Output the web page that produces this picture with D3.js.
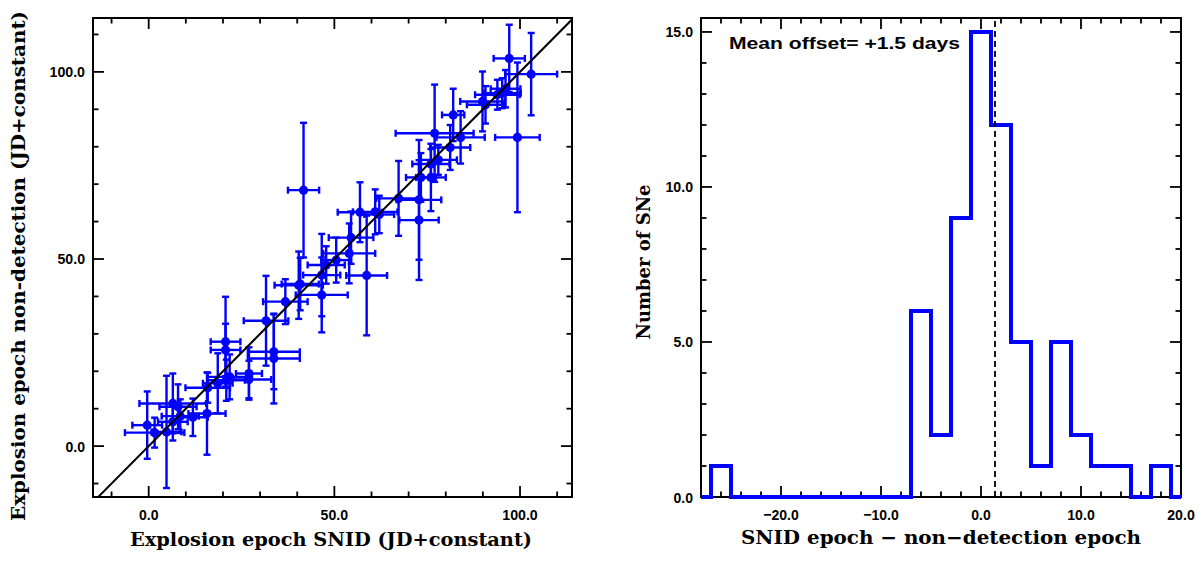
<!DOCTYPE html>
<html><head><meta charset="utf-8">
<script src="https://cdn.jsdelivr.net/npm/d3@7/dist/d3.min.js"></script>
<style>html,body{margin:0;padding:0;background:#fff;}svg{display:block;}</style>
</head><body>
<svg id="chart" width="1202" height="561"></svg>
<script>
// ---- Left panel data: explosion epochs (JD + constant) ----
const snidEpoch   = [-0.4,1.6,4.8,6.5,7.9,8.5,6.5,11.9,15.7,15.9,18.6,20.9,21.8,27.0,27.0,20.7,20.7,33.7,33.7,31.6,36.8,40.4,40.8,46.6,46.6,50.5,47.8,54.0,54.5,58.7,56.9,61.0,62.1,41.7,67.3,72.8,72.8,73.3,76.0,76.0,78.0,77.0,81.2,84.0,82.0,89.9,90.7,93.9,95.2,96.1,97.1,103.0,99.3];
const nondetEpoch = [5.6,3.6,3.8,11.4,10.5,8.0,6.5,7.7,8.7,15.6,16.8,17.6,18.5,19.4,17.8,25.7,27.9,25.2,23.4,33.5,38.6,43.0,43.3,45.7,40.4,49.7,48.4,51.5,55.7,45.6,62.5,62.6,61.9,68.4,66.2,65.8,60.4,71.8,71.8,75.4,76.5,83.6,79.8,82.5,88.5,92.1,91.2,93.9,94.3,95.5,103.6,99.4,82.5];
const snidErr     = [4,8,4,9,5,5,4,4,5,6,4,5,6,3.5,6,4,4,7,7,6,6,6.5,5,5,7,4,5,7,6,5.5,6,6,4,4.2,6,6,5.3,4,4,5,5,10.5,5.4,6.5,3,6,5,6,5,4,4.2,7,6];
const nondetErr   = [9,4,15,8,6,4.5,5,5,11,4,8,5.5,6,7,5,7,12,10,12,12,6,9,7,11,10,6,5,8,7,16,8,6,5,18,10,16,16,6.5,9,4,4,13,6,7,7,8,5,4,4,5,9,11,20];
const leftXTicks = [0, 50, 100];
const leftYTicks = [0, 50, 100];
const leftXLabel = "Explosion epoch SNID (JD+constant)";
const leftYLabel = "Explosion epoch non-detection (JD+constant)";

// ---- Right panel data: histogram of SNID epoch - non-detection epoch ----
const binStarts = [-27,-25,-23,-21,-19,-17,-15,-13,-11,-9,-7,-5,-3,-1,1,3,5,7,9,11,13,15,17];
const binCounts = [1,0,0,0,0,0,0,0,0,0,6,2,9,15,12,5,1,5,2,1,1,0,1];
const binWidth = 2;
const meanOffsetLine = 1.4;
const rightXTicks = [-20, -10, 0, 10, 20];
const rightYTicks = [0, 5, 10, 15];
const rightXLabel = "SNID epoch \u2212 non\u2212detection epoch";
const rightYLabel = "Number of SNe";
const annotation = "Mean offset= +1.5 days";

const svg = d3.select("#chart");
const BLUE = "#0000ff";
const tickFont = "'Liberation Sans', Arial, sans-serif";
const titleFont = "'DejaVu Serif', serif";

function labelWidth(s) {
  let w = 0;
  for (const c of s) w += (c === ".") ? 3.5 : (c === "\u2212" ? 8 : 8);
  return w;
}

function frameAndTicks(g, x, y, xMajor, xMinorStep, yMajor, yMinorStep) {
  const [x0, x1] = x.range(), [y0, y1] = y.range();
  const xd = x.domain(), yd = y.domain();
  const minors = (d, step) => {
    const out = [];
    for (let v = Math.ceil(d[0] / step) * step; v <= d[1] + 1e-9; v += step) out.push(+v.toFixed(6));
    return out;
  };
  const tk = g.append("g").attr("stroke", "#000").attr("stroke-width", 1.8);
  minors(xd, xMinorStep).forEach(v => {
    const major = xMajor.includes(v), L = major ? 11 : 5.5, px = x(v);
    tk.append("line").attr("x1", px).attr("x2", px).attr("y1", y0).attr("y2", y0 - L);
    tk.append("line").attr("x1", px).attr("x2", px).attr("y1", y1).attr("y2", y1 + L);
  });
  minors(yd, yMinorStep).forEach(v => {
    const major = yMajor.includes(v), L = major ? 11 : 5.5, py = y(v);
    tk.append("line").attr("y1", py).attr("y2", py).attr("x1", x0).attr("x2", x0 + L);
    tk.append("line").attr("y1", py).attr("y2", py).attr("x1", x1).attr("x2", x1 - L);
  });
  g.append("rect").attr("x", x0).attr("y", y1).attr("width", x1 - x0).attr("height", y0 - y1)
    .attr("fill", "none").attr("stroke", "#000").attr("stroke-width", 2);
  // tick labels
  xMajor.forEach(v => {
    const s = d3.format(".1f")(v).replace("-", "\u2212");
    g.append("text").attr("x", x(v)).attr("y", 520).attr("text-anchor", "middle")
      .attr("font-family", tickFont).attr("font-weight", "bold").attr("font-size", 15.5)
      .attr("textLength", labelWidth(s)).attr("lengthAdjust", "spacingAndGlyphs")
      .text(s);
  });
  yMajor.forEach(v => {
    const s = d3.format(".1f")(v);
    g.append("text").attr("x", x0 - 8).attr("y", y(v) + 5.5).attr("text-anchor", "end")
      .attr("font-family", tickFont).attr("font-weight", "bold").attr("font-size", 15.5)
      .attr("textLength", labelWidth(s)).attr("lengthAdjust", "spacingAndGlyphs")
      .text(s);
  });
}

// ---------- Left panel ----------
const xL = d3.scaleLinear().domain([-15, 114]).range([93, 572]);
const yL = d3.scaleLinear().domain([-13.6, 114.4]).range([497, 18]);
const gL = svg.append("g");
svg.append("clipPath").attr("id", "clipL").append("rect")
  .attr("x", 93).attr("y", 18).attr("width", 479).attr("height", 479);

const pts = snidEpoch.map((v, i) => ({x: v, y: nondetEpoch[i], ex: snidErr[i], ey: nondetErr[i]}));
const eb = gL.append("g").attr("stroke", BLUE).attr("stroke-width", 2.4).attr("clip-path", "url(#clipL)");
const cap = 3.5;
pts.forEach(p => {
  const cx = xL(p.x), cy = yL(p.y);
  const xa = xL(p.x - p.ex), xb = xL(p.x + p.ex), ya = yL(p.y - p.ey), yb = yL(p.y + p.ey);
  eb.append("line").attr("x1", xa).attr("x2", xb).attr("y1", cy).attr("y2", cy);
  eb.append("line").attr("x1", xa).attr("x2", xa).attr("y1", cy - cap).attr("y2", cy + cap);
  eb.append("line").attr("x1", xb).attr("x2", xb).attr("y1", cy - cap).attr("y2", cy + cap);
  eb.append("line").attr("x1", cx).attr("x2", cx).attr("y1", ya).attr("y2", yb);
  eb.append("line").attr("x1", cx - cap).attr("x2", cx + cap).attr("y1", ya).attr("y2", ya);
  eb.append("line").attr("x1", cx - cap).attr("x2", cx + cap).attr("y1", yb).attr("y2", yb);
});
gL.append("g").attr("clip-path", "url(#clipL)").selectAll("circle").data(pts).join("circle")
  .attr("cx", d => xL(d.x)).attr("cy", d => yL(d.y)).attr("r", 4.6).attr("fill", BLUE);
gL.append("line").attr("clip-path", "url(#clipL)")
  .attr("x1", xL(-20)).attr("y1", yL(-20)).attr("x2", xL(120)).attr("y2", yL(120))
  .attr("stroke", "#000").attr("stroke-width", 2);
frameAndTicks(gL, xL, yL, leftXTicks, 10, leftYTicks, 10);
gL.append("text").attr("x", 331).attr("y", 546).attr("text-anchor", "middle")
  .attr("font-family", titleFont).attr("font-weight", "bold").attr("font-size", 19).attr("textLength", 402).attr("lengthAdjust", "spacingAndGlyphs")
  .text(leftXLabel);
gL.append("text").attr("transform", "translate(25,266) rotate(-90)").attr("text-anchor", "middle")
  .attr("font-family", titleFont).attr("font-weight", "bold").attr("font-size", 19).attr("textLength", 510).attr("lengthAdjust", "spacingAndGlyphs")
  .text(leftYLabel);

// ---------- Right panel ----------
const xR = d3.scaleLinear().domain([-28, 20]).range([701, 1181]);
const yR = d3.scaleLinear().domain([0, 15.45]).range([497, 18]);
const gR = svg.append("g");
frameAndTicks(gR, xR, yR, rightXTicks, 2, rightYTicks, 1);
const stepPts = [[xR.domain()[0], 0]]
  .concat(binStarts.map((s, i) => [s, binCounts[i]]))
  .concat([[binStarts[binStarts.length - 1] + binWidth, 0], [xR.domain()[1], 0]]);
gR.append("path").datum(stepPts)
  .attr("d", d3.line().x(d => xR(d[0])).y(d => yR(d[1])).curve(d3.curveStepAfter))
  .attr("fill", "none").attr("stroke", BLUE).attr("stroke-width", 4).attr("stroke-linejoin", "miter");
gR.append("line").attr("x1", xR(meanOffsetLine)).attr("x2", xR(meanOffsetLine))
  .attr("y1", yR(0)).attr("y2", yR(15.45)).attr("stroke", "#000").attr("stroke-width", 1.8)
  .attr("stroke-dasharray", "6,4");
gR.append("text").attr("x", 729).attr("y", 49).attr("font-family", tickFont).attr("font-weight", "bold")
  .attr("font-size", 16).attr("textLength", 231).attr("lengthAdjust", "spacingAndGlyphs").text(annotation);
gR.append("text").attr("x", 941).attr("y", 544).attr("text-anchor", "middle")
  .attr("font-family", titleFont).attr("font-weight", "bold").attr("font-size", 19).attr("textLength", 400).attr("lengthAdjust", "spacingAndGlyphs")
  .text(rightXLabel);
gR.append("text").attr("transform", "translate(650,262) rotate(-90)").attr("text-anchor", "middle")
  .attr("font-family", titleFont).attr("font-weight", "bold").attr("font-size", 19).attr("textLength", 155).attr("lengthAdjust", "spacingAndGlyphs")
  .text(rightYLabel);
</script>
</body></html>
